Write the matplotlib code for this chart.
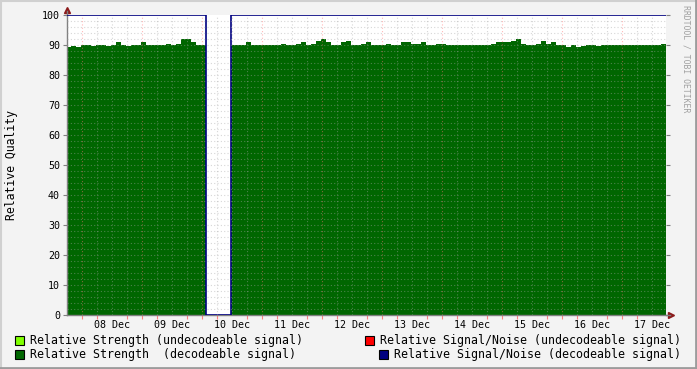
import numpy as np
import matplotlib
matplotlib.use('Agg')
import matplotlib.pyplot as plt
from matplotlib.lines import Line2D
from matplotlib.patches import Rectangle

plt.rcParams['font.family'] = 'DejaVu Sans Mono'

# 2-hour bins, first bin starts 07 Dec 18:00 (hours relative to 08 Dec 00:00)
start_hour = -6.5
bin_hours = 2
nan = np.nan
strength_ok = (
    [89.3, 89.6, 89.3] +                                                  # 07 Dec
    [90, 90, 89.7, 90, 90, 89.8, 90, 91, 90, 89.7, 90, 90] +              # 08 Dec
    [91, 90, 90, 90, 90, 90.5, 90, 90.5, 92, 92, 91, 90] +                # 09 Dec
    [90, nan, nan, nan, nan, nan, 90, 90, 90, 91, 90, 90] +               # 10 Dec
    [90, 90, 90, 90, 90.5, 90, 90, 90.5, 91, 90, 90.5, 91.5] +            # 11 Dec
    [92, 91, 90, 90, 91, 91.5, 90, 90, 90.5, 91, 90, 90] +                # 12 Dec
    [90, 90.5, 90, 90, 91, 91, 90.5, 90.5, 91, 90, 90, 90.3] +            # 13 Dec
    [90.5, 90, 90, 90, 90, 90, 90, 90, 90, 90, 90.5, 91] +                # 14 Dec
    [91, 91, 91.5, 92, 90.5, 90, 90, 90.5, 91.5, 90.5, 91, 90] +          # 15 Dec
    [90, 89.5, 90, 89.5, 89.7, 90, 90, 89.8, 90, 90, 90, 90] +            # 16 Dec
    [90, 90, 90, 90, 90, 90, 90, 90, 90.3, 90]                            # 17 Dec
)
snr_ok = [0 if np.isnan(v) else 100 for v in strength_ok]
day_labels = ['08 Dec', '09 Dec', '10 Dec', '11 Dec', '12 Dec',
              '13 Dec', '14 Dec', '15 Dec', '16 Dec', '17 Dec']
legend_left = ['Relative Strength (undecodeable signal)',
               'Relative Strength  (decodeable signal)']
legend_right = ['Relative Signal/Noise (undecodeable signal)',
                'Relative Signal/Noise (decodeable signal)']

c_lgreen = '#80FF00'
c_green = '#006600'
c_red = '#FF0000'
c_navy = '#000080'

W, H = 697, 369
fig = plt.figure(figsize=(W / 100, H / 100), dpi=100, facecolor='#F3F3F3')
ax = fig.add_axes([67 / W, (H - 315) / H, 599 / W, 300 / H])
ax.set_facecolor('white')

edges = start_hour + bin_hours * np.arange(len(strength_ok) + 1)
ax.stairs(np.nan_to_num(strength_ok), edges, fill=True, color=c_green, baseline=0, zorder=2)
ax.stairs(snr_ok, edges, color=c_navy, lw=1.2, baseline=None, zorder=3)

ax.set_xlim(-6, 233.6)
ax.set_ylim(0, 100)

# grid drawn over data like rrdtool
for h in np.arange(0, 240, 6):
    if h % 24 == 0:
        ax.axvline(h, color=(1, 0.45, 0.45, 0.5), lw=0.8, ls=(0, (1, 2)), zorder=4)
    else:
        ax.axvline(h, color=(0.65, 0.65, 0.65, 0.45), lw=0.8, ls=(0, (1, 2)), zorder=4)
for v in np.arange(2, 100, 2):
    ax.axhline(v, color=(0.65, 0.65, 0.65, 0.45), lw=0.8, ls=(0, (1, 2)), zorder=4)

ax.set_xticks(np.arange(12, 240, 24)[:len(day_labels)])
ax.set_xticklabels(day_labels, fontsize=7.2)
ax.tick_params(axis='x', length=0, pad=3.5)
ax.set_xticks(np.arange(0, 234, 6), minor=True)
ax.tick_params(axis='x', which='minor', length=3, color='#FF8080', width=0.8)
ax.set_yticks(np.arange(0, 101, 10))
ax.tick_params(axis='y', length=3, color='#808080', labelsize=7.2, pad=2,
               right=True, which='major')
ax.set_ylabel('Relative Quality', fontsize=8.3, labelpad=17)

for s in ['top', 'right']:
    ax.spines[s].set_visible(False)
for s in ['left', 'bottom']:
    ax.spines[s].set_color('#808080')
    ax.spines[s].set_linewidth(1)

# axis arrows
ax.plot([0], [1.018], marker='^', ms=4, color='#8B1A1A', transform=ax.transAxes, clip_on=False)
ax.plot([1.008], [0], marker='>', ms=4, color='#8B1A1A', transform=ax.transAxes, clip_on=False)
ax.plot([0, 0], [1.0, 1.015], color='#808080', lw=1, transform=ax.transAxes, clip_on=False)
ax.plot([1.0, 1.006], [0, 0], color='#808080', lw=1, transform=ax.transAxes, clip_on=False)

fig.text(686 / W, 1 - 5 / H, 'RRDTOOL / TOBI OETIKER', rotation=-90, fontsize=5.9,
         color='#A0A0A0', ha='center', va='top')

# legend
def legend_item(xsq, ytop, color, text):
    fig.patches.append(Rectangle((xsq / W, 1 - (ytop + 9) / H), 9 / W, 9 / H,
                                 facecolor=color, edgecolor='black', lw=0.8,
                                 transform=fig.transFigure))
    fig.text((xsq + 15) / W, 1 - (ytop + 4.5) / H, text, fontsize=8.4, va='center')

legend_item(15, 336, c_lgreen, legend_left[0])
legend_item(15, 350, c_green, legend_left[1])
legend_item(365, 336, c_red, legend_right[0])
legend_item(379, 350, c_navy, legend_right[1])

# frame
fig.add_artist(Line2D([0, 1], [1 - 0.5 / H, 1 - 0.5 / H], color='#D0D0D0', lw=1.5))
fig.add_artist(Line2D([0.5 / W, 0.5 / W], [0, 1], color='#D0D0D0', lw=1.5))
fig.add_artist(Line2D([0, 1], [1 / H, 1 / H], color='#9C9C9C', lw=2))
fig.add_artist(Line2D([1 - 1 / W, 1 - 1 / W], [0, 1], color='#9C9C9C', lw=2))

fig.savefig('out.png', dpi=100, facecolor=fig.get_facecolor())
